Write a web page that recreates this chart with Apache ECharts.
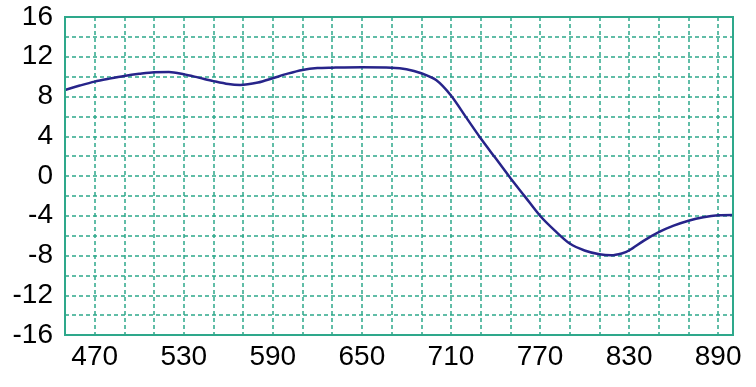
<!DOCTYPE html>
<html>
<head>
<meta charset="utf-8">
<script src="https://cdn.jsdelivr.net/npm/echarts@6/dist/echarts.min.js"></script>
<style>
html,body{margin:0;padding:0;background:#fff;}
#c{width:756px;height:387px;}
</style>
</head>
<body>
<div id="c"></div>
<script>
var xValues = [450,460,470,480,490,500,510,520,530,540,550,560,568,580,590,600,610,620,630,650,670,680,690,700,710,720,730,740,750,760,770,780,790,800,810,818,825,830,840,850,860,870,880,890,900];
var yValues = [8.66,9.1,9.5,9.8,10.07,10.28,10.44,10.46,10.24,9.9,9.55,9.25,9.16,9.4,9.84,10.3,10.67,10.86,10.9,10.94,10.9,10.75,10.34,9.65,8.1,5.95,3.8,1.8,-0.2,-2.1,-4.0,-5.5,-6.8,-7.5,-7.88,-7.98,-7.8,-7.5,-6.5,-5.65,-5.0,-4.5,-4.15,-3.95,-3.92];
var xLabels = [470,530,590,650,710,770,830,890];
var yLabels = [-16,-12,-8,-4,0,4,8,12,16];

var teal = '#2ea88b';
var data = xValues.map(function(x,i){return [x,yValues[i]];});
var chart = echarts.init(document.getElementById('c'));
chart.setOption({
  animation:false,
  backgroundColor:'#fff',
  grid:{left:65,right:23,top:17,bottom:52,containLabel:false,show:false},
  xAxis:{
    type:'value',min:450,max:900,interval:20,
    axisLine:{show:true,onZero:false,lineStyle:{color:teal,width:2}},
    axisTick:{show:false},
    splitLine:{show:true,lineStyle:{color:teal,type:[4,3],width:1.5}},
    axisLabel:{
      color:'#000',fontFamily:'Liberation Sans, Arial',fontSize:28,margin:8,
      formatter:function(v){return xLabels.indexOf(v)>=0?String(v):'';}
    }
  },
  yAxis:{
    type:'value',min:-16,max:16,interval:2,
    axisLine:{show:true,onZero:false,lineStyle:{color:teal,width:2}},
    axisTick:{show:false},
    splitLine:{show:true,lineStyle:{color:teal,type:[4,3],width:1.5}},
    axisLabel:{
      color:'#000',fontFamily:'Liberation Sans, Arial',fontSize:28,margin:12,
      formatter:function(v){return yLabels.indexOf(v)>=0?String(v):'';}
    }
  },
  series:[{
    type:'line',data:data,smooth:0.3,symbol:'none',
    lineStyle:{color:'#27248a',width:2.5}
  }],
  graphic:[{
    type:'rect',
    shape:{x:65,y:17,width:668,height:318},
    style:{fill:'none',stroke:teal,lineWidth:2},
    silent:true,z:10
  }]
});
</script>
</body>
</html>
